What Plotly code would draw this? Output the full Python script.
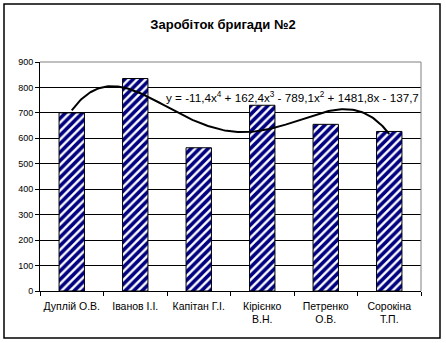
import numpy as np
import plotly.graph_objects as go

categories = ["Дуплій О.В.", "Іванов І.І.", "Капітан Г.І.", "Кірієнко<br>В.Н.", "Петренко<br>О.В.", "Сорокіна<br>Т.П."]
earnings = [700, 835, 563, 730, 655, 627]
y_ticks = [0, 100, 200, 300, 400, 500, 600, 700, 800, 900]
title_text = "Заробіток бригади №2"
equation_text = "y = -11,4x<sup>4</sup> + 162,4x<sup>3</sup> - 789,1x<sup>2</sup> + 1481,8x - 137,7"

W, H = 446, 343
L, R, T, B = 40, 25, 62, 52

# polynomial (order 4) trend line fitted to the bar values
xs = np.arange(1, len(earnings) + 1)
coef = np.polyfit(xs, earnings, 4)
xt = np.linspace(1, len(earnings), 200)
yt = np.polyval(coef, xt)

fig = go.Figure()
fig.add_trace(go.Bar(
    x=categories, y=earnings, width=0.4,
    marker=dict(color="white", line=dict(color="black", width=1),
                pattern=dict(shape="/", fgcolor="#000080", bgcolor="white", size=6,
                             solidity=0.6, fgopacity=1)),
    showlegend=False, hoverinfo="skip"))
fig.add_trace(go.Scatter(x=xt, y=yt, mode="lines", xaxis="x2",
                         line=dict(color="black", width=2), showlegend=False, hoverinfo="skip"))

fig.update_layout(
    width=W, height=H, margin=dict(l=L, r=R, t=T, b=B, autoexpand=False),
    paper_bgcolor="white", plot_bgcolor="white",
    font=dict(family="Liberation Sans, Arial, sans-serif", size=10, color="black"),
    title=dict(text="<b>" + title_text + "</b>", x=0.5, xref="container", xanchor="center",
               y=1 - 24 / H, yref="container", yanchor="middle",
               font=dict(size=13, color="black")),
    bargap=0.6,
    xaxis=dict(type="category", showline=True, linecolor="black", linewidth=1,
               ticks="outside", tickson="boundaries", ticklen=4, tickcolor="black",
               showgrid=False, tickfont=dict(size=10.5), range=[-0.5, 5.5],
               tickangle=0, automargin=False, ticklabelstandoff=5),
    xaxis2=dict(overlaying="x", range=[0.5, 6.5], visible=False),
    yaxis=dict(range=[0, 900], tickvals=y_ticks, showline=True, linecolor="black", linewidth=1,
               ticks="outside", ticklen=4, tickcolor="black", showgrid=True, automargin=False,
               gridcolor="black", gridwidth=1, zeroline=False, tickfont=dict(size=9)),
    shapes=[
        dict(type="line", xref="paper", yref="paper", x0=0, x1=1, y0=1, y1=1,
             line=dict(color="#808080", width=1), layer="above"),
        dict(type="line", xref="paper", yref="paper", x0=1, x1=1, y0=0, y1=1,
             line=dict(color="#808080", width=1), layer="above"),
        dict(type="rect", xref="paper", yref="paper",
             x0=(4 - L) / (W - L - R), x1=(440 - L) / (W - L - R),
             y0=-(338 - (H - B)) / (H - T - B), y1=1 + (T - 4) / (H - T - B),
             line=dict(color="black", width=1.5), layer="above"),
    ],
    annotations=[dict(text=equation_text, xref="paper", x=1, xanchor="right",
                      yref="y", y=762, yanchor="middle", showarrow=False,
                      font=dict(size=11.7, color="black"))],
)

fig.write_html("out.html")
